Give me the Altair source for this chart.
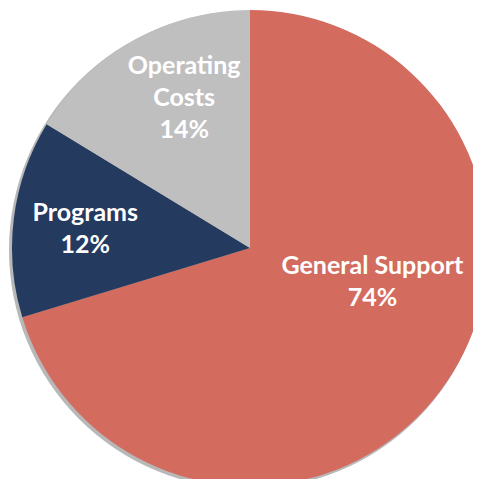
import altair as alt
import pandas as pd

categories = ["General Support", "Programs", "Operating Costs"]
shares = [70.3, 13.4, 16.3]          # slice sizes as drawn
label_text = ["General Support\n74%", "Programs\n12%", "Operating\nCosts\n14%"]
colors = ["#D36B5E", "#243A5F", "#BFBFBF"]

df = pd.DataFrame({
    "category": categories,
    "share": shares,
    "label": label_text,
    "idx": list(range(len(categories))),
})

CX, CY, R = 242, 240, 238

base = alt.Chart(df)

shadow = base.mark_arc(color="#000000", opacity=0.10, outerRadius=R + 1).encode(
    theta=alt.value(0), theta2=alt.value(6.2832),
    x=alt.value(CX - 2), y=alt.value(CY + 2),
)

arcs = base.mark_arc(outerRadius=R, stroke=None).encode(
    theta=alt.Theta("share:Q", stack=True),
    color=alt.Color("category:N", scale=alt.Scale(domain=categories, range=colors), legend=None),
    order=alt.Order("idx:Q"),
    x=alt.value(CX), y=alt.value(CY),
)

def label_layer(cat, r, dx, dy):
    return base.transform_calculate(
        txt=f"datum.category == '{cat}' ? datum.label : ''"
    ).mark_text(
        radius=r, dx=dx, dy=dy, font="Lato", fontWeight="bold", fontSize=25,
        color="white", lineBreak="\n", lineHeight=32, align="center", baseline="middle",
    ).encode(
        theta=alt.Theta("share:Q", stack=True),
        order=alt.Order("idx:Q"),
        text="txt:N",
        x=alt.value(CX), y=alt.value(CY),
    )

chart = alt.layer(
    shadow, arcs,
    label_layer("General Support", 130, 18, -59),
    label_layer("Programs", 166, 0, -14),
    label_layer("Operating Costs", 165, 15, -38),
).properties(
    width=465, height=471, padding=0, autosize=alt.AutoSizeParams(type="none")
).configure_view(stroke=None)

chart.save("out.html", embed_options={"renderer": "svg", "actions": False})
